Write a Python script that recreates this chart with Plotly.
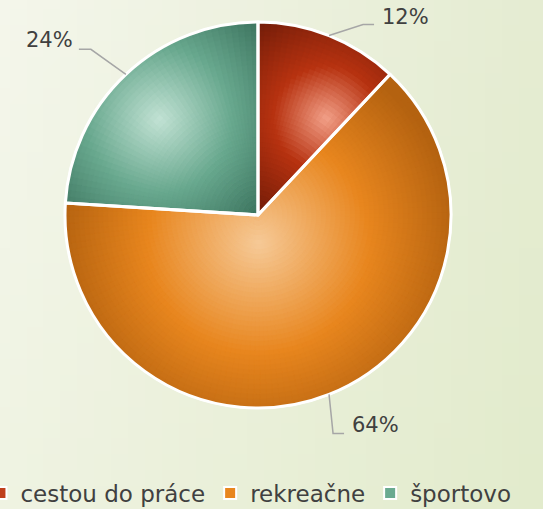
import math, zlib, struct, base64
import plotly.graph_objects as go

# ---------------- data ----------------
categories = ["cestou do práce", "rekreačne", "športovo"]
values = [12, 64, 24]
legend_colors = ["#bf3f1c", "#e8861e", "#6aaa90"]

# ---------------- geometry / style ----------------
W, H = 543, 509
MB = 40                 # bottom margin holding the legend
HP = H - MB             # plot-area height
CX, CY, R = 258, 215, 193
FONT = "DejaVu Sans"
TXT = "#404040"

def px(x):
    return x / W

def py(y):
    return (HP - y) / HP

# radial gradient per slice: light spot (relative radius, fraction of slice angle), radius of gradient
grad = [
    dict(light=(242, 160, 136), mid=(183, 50, 16), dark=(106, 26, 8), spot_r=0.61, spot_f=0.82, rg=125, tm=0.42),
    dict(light=(246, 202, 152), mid=(232, 134, 30), dark=(180, 98, 16), spot_r=0.145, spot_f=0.59, rg=200, tm=0.55),
    dict(light=(194, 226, 212), mid=(104, 168, 142), dark=(60, 115, 94), spot_r=0.71, spot_f=0.47, rg=140, tm=0.52),
]

total = float(sum(values))
spans = [v / total * 360.0 for v in values]
starts = [sum(spans[:i]) for i in range(len(values))]

def pt(r, ang):
    a = math.radians(ang)
    return CX + r * math.sin(a), CY - r * math.cos(a)

def lerp(c1, c2, t):
    return tuple(c1[i] + (c2[i] - c1[i]) * t for i in range(3))

def shade(i, r, ang):
    g = grad[i]
    sx, sy = pt(g["spot_r"] * R, starts[i] + g["spot_f"] * spans[i])
    x, y = pt(r, ang)
    t = min(1.0, math.hypot(x - sx, y - sy) / g["rg"])
    if t < g["tm"]:
        c = lerp(g["light"], g["mid"], t / g["tm"])
    else:
        c = lerp(g["mid"], g["dark"], (t - g["tm"]) / (1 - g["tm"]))
    return "rgb(%d,%d,%d)" % tuple(int(round(v)) for v in c)

def dom(r):
    return dict(x=[px(CX - r), px(CX + r)], y=[py(CY + r), py(CY - r)])

fig = go.Figure()

# legend-carrying pie (hidden underneath)
fig.add_trace(go.Pie(
    labels=categories, values=values, sort=False, direction="clockwise", rotation=0,
    marker=dict(colors=legend_colors, line=dict(color="white", width=2)),
    textinfo="none", hoverinfo="skip", domain=dom(R), showlegend=True,
))

# gradient rendering: stacked disks, each split into angular sub-slices
NR, NS = 40, 180
M = [max(1, round(NS * v / total)) for v in values]
for k in range(NR - 1, -1, -1):
    r_out = R * (k + 1) / NR
    r_mid = R * (k + 0.5) / NR
    labs, vals, cols = [], [], []
    for i, v in enumerate(values):
        for j in range(M[i]):
            ang = starts[i] + (j + 0.5) * spans[i] / M[i]
            labs.append("r%d_%d_%d" % (k, i, j))
            vals.append(v / M[i])
            cols.append(shade(i, r_mid, ang))
    fig.add_trace(go.Pie(
        labels=labs, values=vals, sort=False, direction="clockwise", rotation=0,
        marker=dict(colors=cols, line=dict(color=cols, width=1.0)),
        textinfo="none", hoverinfo="skip", domain=dom(r_out), showlegend=False,
    ))

# white outline on top
fig.add_trace(go.Pie(
    labels=["o_" + c for c in categories], values=values, sort=False, direction="clockwise", rotation=0,
    marker=dict(colors=["rgba(0,0,0,0)"] * 3, line=dict(color="white", width=3)),
    textinfo="none", hoverinfo="skip", domain=dom(R), showlegend=False,
))

# data labels with elbow leader lines
label_style = [
    dict(d1=(34, -11), d2=(11, 0), tx=(6, -8), anchor="left"),
    dict(d1=(4, 39), d2=(11, 0), tx=(6, -8), anchor="left"),
    dict(d1=(-35, -25), d2=(-12, 0), tx=(-4, -9), anchor="right"),
]
shapes, annotations = [], []
for i, v in enumerate(values):
    ex, ey = pt(R, starts[i] + spans[i] / 2)
    s = label_style[i]
    bx, by = ex + s["d1"][0], ey + s["d1"][1]
    cx2, cy2 = bx + s["d2"][0], by + s["d2"][1]
    shapes.append(dict(
        type="path", xref="paper", yref="paper",
        path="M %f %f L %f %f L %f %f" % (px(ex), py(ey), px(bx), py(by), px(cx2), py(cy2)),
        line=dict(color="#a6a6a6", width=1.5), layer="above",
    ))
    annotations.append(dict(
        text="%d%%" % round(v / total * 100), xref="paper", yref="paper",
        x=px(cx2 + s["tx"][0]), y=py(cy2 + s["tx"][1]), xanchor=s["anchor"], yanchor="middle",
        showarrow=False, font=dict(family=FONT, size=21, color=TXT),
    ))

# background gradient image
def make_png(w, h, rows):
    raw = b"".join(b"\x00" + bytes(row) for row in rows)
    def chunk(t, d):
        return struct.pack(">I", len(d)) + t + d + struct.pack(">I", zlib.crc32(t + d) & 0xffffffff)
    return (b"\x89PNG\r\n\x1a\n" + chunk(b"IHDR", struct.pack(">IIBBBBB", w, h, 8, 2, 0, 0, 0))
            + chunk(b"IDAT", zlib.compress(raw)) + chunk(b"IEND", b""))

TL, TR, BL, BR = (244, 246, 235), (229, 236, 210), (239, 243, 226), (226, 235, 204)
G = 32
rows = []
for yy in range(G):
    fy = yy / (G - 1)
    row = []
    for xx in range(G):
        fx = xx / (G - 1)
        top = lerp(TL, TR, fx)
        bot = lerp(BL, BR, fx)
        c = lerp(top, bot, fy)
        row.extend(int(round(q)) for q in c)
    rows.append(row)
bg = "data:image/png;base64," + base64.b64encode(make_png(G, G, rows)).decode()

fig.update_layout(
    width=W, height=H,
    margin=dict(l=0, r=0, t=0, b=MB, autoexpand=False),
    paper_bgcolor="#ebf0da", plot_bgcolor="rgba(0,0,0,0)",
    hovermode=False,
    images=[dict(source=bg, xref="paper", yref="paper", x=0, y=1, sizex=1, sizey=H / HP,
                 xanchor="left", yanchor="top", sizing="stretch", layer="below")],
    shapes=shapes, annotations=annotations,
    legend=dict(orientation="h", x=-0.036, xanchor="left", y=py(493), yanchor="middle",
                font=dict(family=FONT, size=23, color=TXT), bgcolor="rgba(0,0,0,0)",
                itemclick=False, itemdoubleclick=False),
)

fig.write_html("out.html")
